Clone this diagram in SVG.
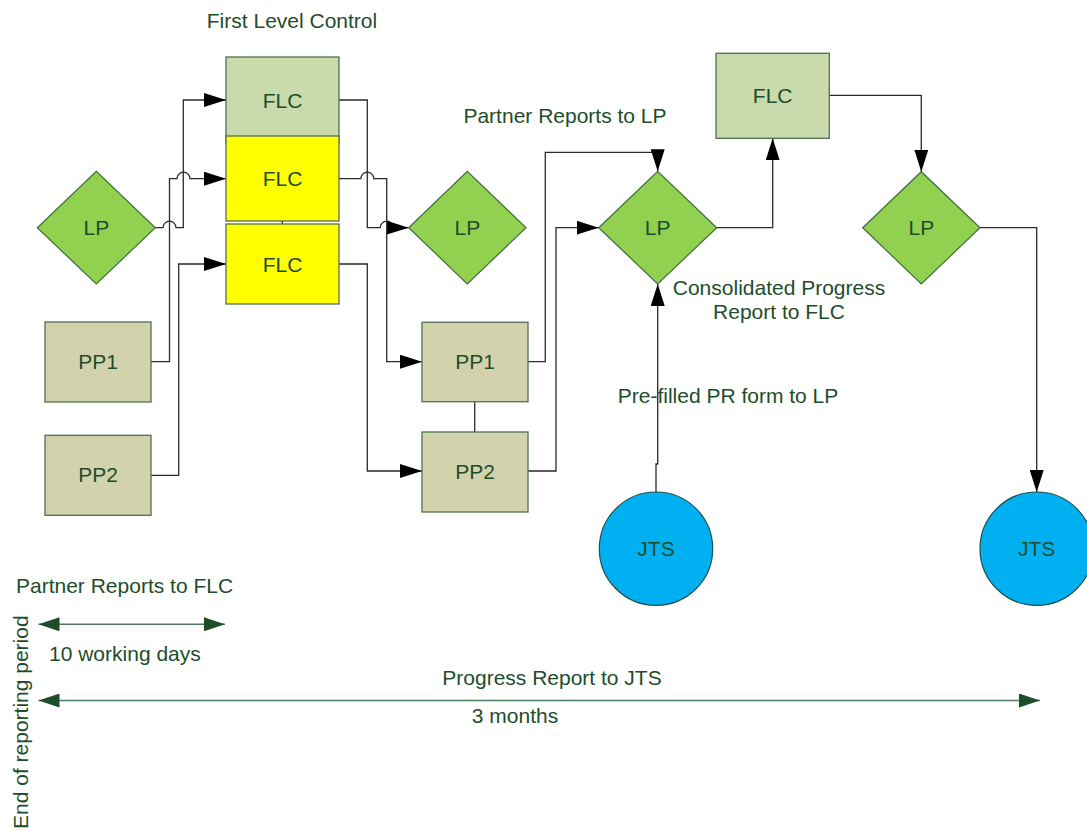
<svg xmlns="http://www.w3.org/2000/svg" width="1087" height="831" viewBox="0 0 1087 831">
<style>
text{font-family:"Liberation Sans",Arial,sans-serif;font-size:21px;fill:#1E4D2B}
.c{text-anchor:middle}
.flc{fill:#C9DAAC;stroke:#4D7050;stroke-width:1.3}
.yel{fill:#FFFF00;stroke:#4D7050;stroke-width:1.3}
.pp{fill:#D2D3AC;stroke:#4D7050;stroke-width:1.3}
.lp{fill:#92D050;stroke:#3C6E3C;stroke-width:1.2}
.jts{fill:#00B0F0;stroke:#1F4F4F;stroke-width:1.2}
.con{fill:none;stroke:#2A2A2A;stroke-width:1.3}
.tl{fill:none;stroke:#4F7B5C;stroke-width:1.6}
</style>
<defs>
<marker id="ah" markerUnits="userSpaceOnUse" markerWidth="22" markerHeight="14" refX="22" refY="7" orient="auto">
<path d="M0,0 L22,7 L0,14 z" fill="#000"/>
</marker>
<marker id="gh" markerUnits="userSpaceOnUse" markerWidth="22" markerHeight="14" refX="21" refY="7" orient="auto-start-reverse">
<path d="M0,0 L21,7 L0,14 z" fill="#1E4D2B"/>
</marker>
</defs>

<text class="c" x="292" y="28">First Level Control</text>
<text class="c" x="565" y="123">Partner Reports to LP</text>
<text class="c" x="779" y="295">Consolidated Progress</text>
<text class="c" x="779" y="319">Report to FLC</text>
<text class="c" x="728" y="403">Pre-filled PR form to LP</text>
<text x="16" y="593">Partner Reports to FLC</text>
<text x="49" y="661">10 working days</text>
<text class="c" x="552" y="685">Progress Report to JTS</text>
<text class="c" x="515" y="723">3 months</text>
<text transform="translate(28,829) rotate(-90)">End of reporting period</text>

<g id="connectors">
<path class="con" d="M155.3,227.7 H163 a6.5,6.5 0 0 1 13,0 H183.3 V100 H226" marker-end="url(#ah)"/>
<path class="con" d="M151,361.7 H169.5 V178.7 H177 a6.5,6.5 0 0 1 13,0 H226" marker-end="url(#ah)"/>
<path class="con" d="M151,475.3 H178.7 V264 H226" marker-end="url(#ah)"/>
<path class="con" d="M339,100 H367.3 V227.7 H380.2 a6.5,6.5 0 0 1 13,0 H408.7" marker-end="url(#ah)"/>
<path class="con" d="M339,178.7 H360.8 a6.5,6.5 0 0 1 13,0 H386.7 V361.7 H422" marker-end="url(#ah)"/>
<path class="con" d="M339,264 H367.3 V471 H422" marker-end="url(#ah)"/>
<path class="con" d="M528,361.7 H545.3 V152.3 H657.7 V171.3" marker-end="url(#ah)"/>
<path class="con" d="M528,471 H556 V227.7 H598.7" marker-end="url(#ah)"/>
<path class="con" d="M656,492 V464 H657.7 V284" marker-end="url(#ah)"/>
<path class="con" d="M716.7,227.7 H772.7 V138.3" marker-end="url(#ah)"/>
<path class="con" d="M829.3,95.3 H921.3 V171.7" marker-end="url(#ah)"/>
<path class="con" d="M980,227.7 H1036.7 V492" marker-end="url(#ah)"/>
<path class="con" d="M474.7,402 V432"/>
<path class="con" d="M282.3,221 V224"/>
<path class="tl" d="M38.5,624.3 H225" marker-start="url(#gh)" marker-end="url(#gh)"/>
<path class="tl" d="M38.5,700.5 H1040" marker-start="url(#gh)" marker-end="url(#gh)"/>
</g>

<g id="flc-top"><rect class="flc" x="226" y="57" width="113" height="86"/><text class="c" x="282.5" y="107.6">FLC</text></g>
<g id="flc-y1"><rect class="yel" x="226" y="136" width="113" height="85"/><text class="c" x="282.5" y="185.6">FLC</text></g>
<g id="flc-y2"><rect class="yel" x="226" y="224" width="113" height="80"/><text class="c" x="282.5" y="271.6">FLC</text></g>
<g id="lp-left"><polygon class="lp" points="37.3,227.7 96.3,171.3 155.3,227.7 96.3,284"/><text class="c" x="96.3" y="234.5">LP</text></g>
<g id="pp1-left"><rect class="pp" x="45" y="322" width="106" height="80"/><text class="c" x="98" y="368.5">PP1</text></g>
<g id="pp2-left"><rect class="pp" x="45" y="435.3" width="106" height="80"/><text class="c" x="98" y="482">PP2</text></g>
<g id="lp-mid"><polygon class="lp" points="408.7,227.7 467.3,171.3 526,227.7 467.3,284"/><text class="c" x="467.3" y="234.5">LP</text></g>
<g id="pp1-mid"><rect class="pp" x="422" y="322.3" width="106" height="79.4"/><text class="c" x="475" y="368.5">PP1</text></g>
<g id="pp2-mid"><rect class="pp" x="422" y="432" width="106" height="80"/><text class="c" x="475" y="478.5">PP2</text></g>
<g id="lp-cons"><polygon class="lp" points="598.7,227.7 657.7,171.3 716.7,227.7 657.7,284"/><text class="c" x="657.7" y="234.5">LP</text></g>
<g id="flc-right"><rect class="flc" x="716" y="53.3" width="113.3" height="85"/><text class="c" x="772.7" y="102.5">FLC</text></g>
<g id="lp-right"><polygon class="lp" points="862.7,227.7 921.3,171.7 980,227.7 921.3,284"/><text class="c" x="921.3" y="235">LP</text></g>
<g id="jts-1"><circle class="jts" cx="656" cy="548.7" r="56.7"/><text class="c" x="656" y="555.5">JTS</text></g>
<g id="jts-2"><circle class="jts" cx="1036.7" cy="548.7" r="56.7"/><text class="c" x="1036.7" y="555.5">JTS</text></g>
</svg>
